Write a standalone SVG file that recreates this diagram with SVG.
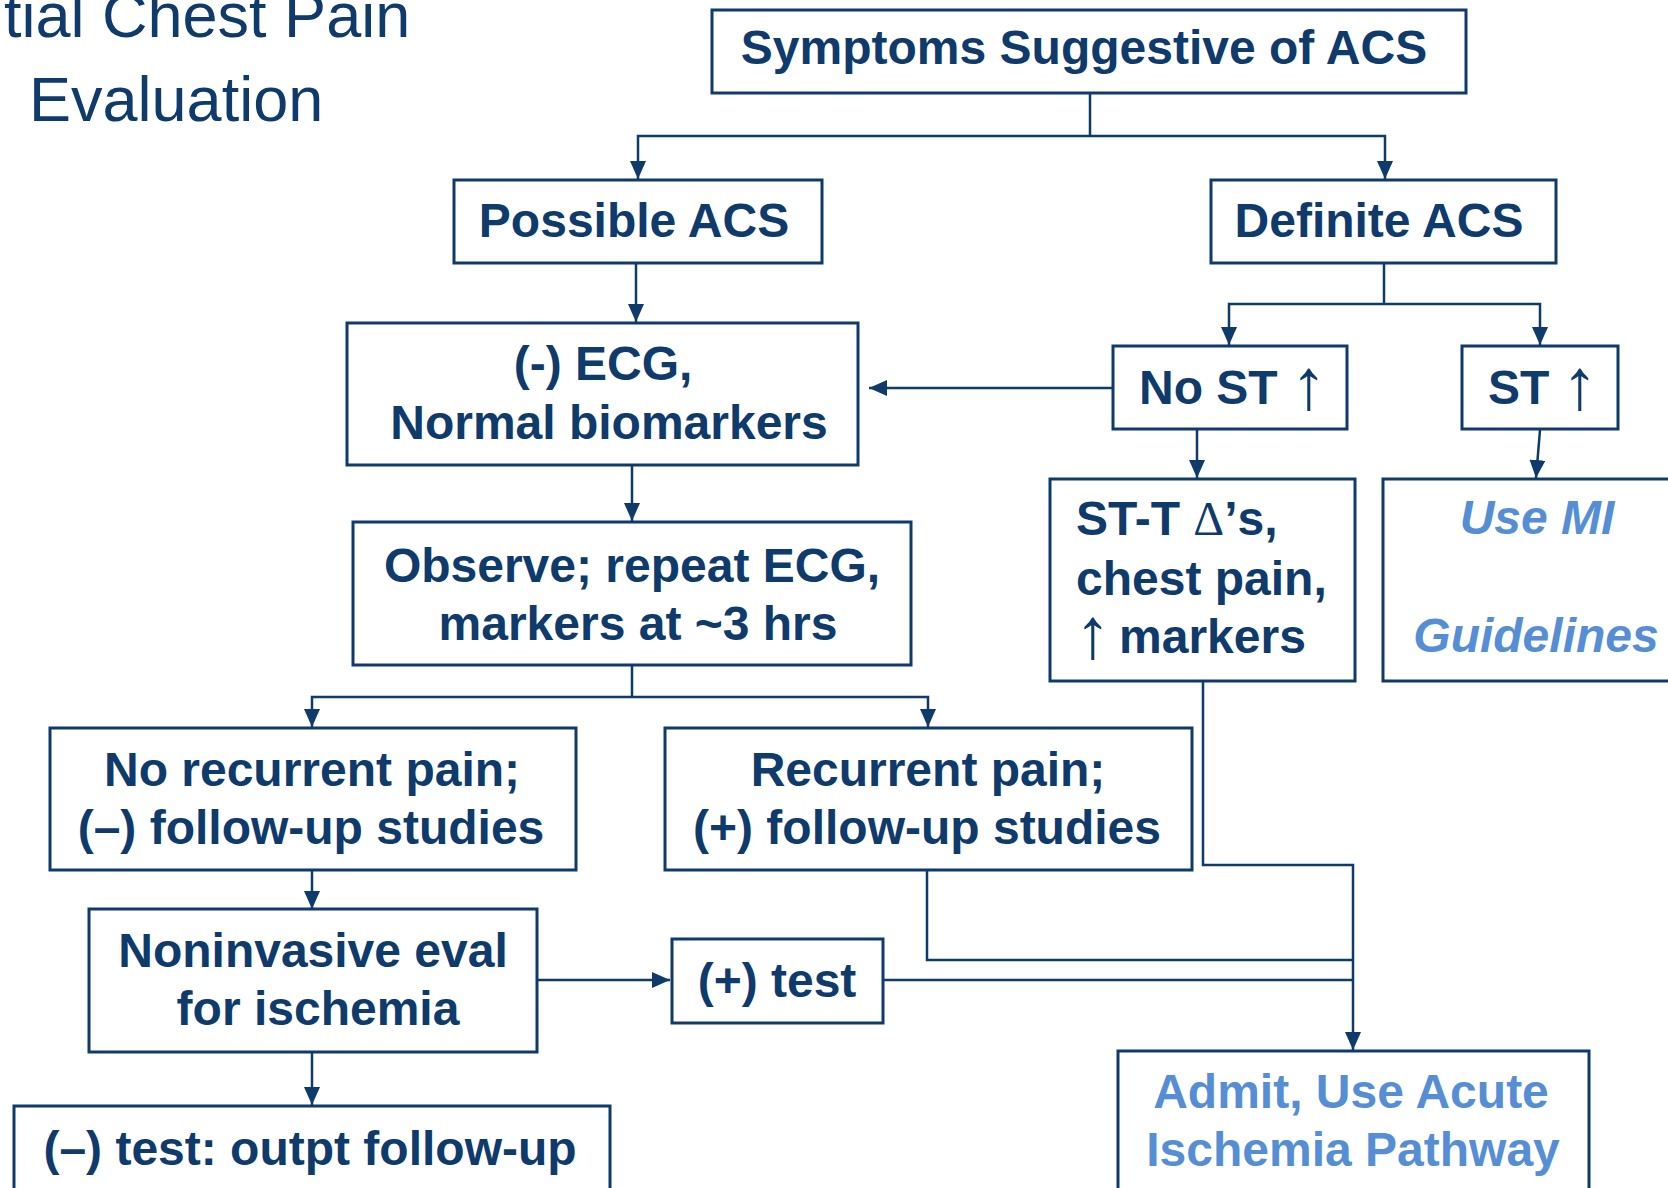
<svg xmlns="http://www.w3.org/2000/svg" width="1668" height="1188" viewBox="0 0 1668 1188">
  <style>
    .box { fill: #ffffff; stroke: #0e3a6c; stroke-width: 3; }
    .t { font-family: "Liberation Sans", Arial, sans-serif; font-weight: 700; font-size: 48px; fill: #0e3a6c; }
    .c { text-anchor: middle; }
    .blue { fill: #558ed5; }
    .it { font-style: italic; }
    .sym { font-family: "Liberation Serif", "Times New Roman", serif; font-weight: 400; }
    .up { font-family: "Liberation Serif", "Times New Roman", serif; font-weight: 400; font-size: 72px; }
    .title { font-family: "Liberation Sans", Arial, sans-serif; font-size: 63px; fill: #0e3a6c; }
    .wire { fill: none; stroke: #0e3a6c; stroke-width: 2.5; }
    .arr { marker-end: url(#head); }
  </style>
  <defs>
    <marker id="head" markerUnits="userSpaceOnUse" markerWidth="18" markerHeight="16" refX="18" refY="8" orient="auto">
      <path d="M0,0 L18,8 L0,16 z" fill="#0e3a6c"/>
    </marker>
  </defs>

  <rect width="1668" height="1188" fill="#ffffff"/>

  <!-- slide title -->
  <g id="title">
    <text class="title" x="4" y="37">tial Chest Pain</text>
    <text class="title" x="29" y="121">Evaluation</text>
  </g>

  <!-- connectors -->
  <g id="connectors">
    <path class="wire" d="M1090,93 V136"/>
    <path class="wire arr" d="M1090,136 H638 V179"/>
    <path class="wire arr" d="M1090,136 H1385 V179"/>
    <path class="wire arr" d="M636,263 V322"/>
    <path class="wire" d="M1384,263 V304"/>
    <path class="wire arr" d="M1384,304 H1229 V345"/>
    <path class="wire arr" d="M1384,304 H1540 V345"/>
    <path class="wire arr" d="M1113,388 H869"/>
    <path class="wire arr" d="M1197,430 V478"/>
    <path class="wire arr" d="M1540,430 L1536,478"/>
    <path class="wire arr" d="M632,461 V521"/>
    <path class="wire" d="M632,665 V697"/>
    <path class="wire arr" d="M632,697 H312 V727"/>
    <path class="wire arr" d="M632,697 H928 V727"/>
    <path class="wire arr" d="M312,870 V909"/>
    <path class="wire arr" d="M312,1052 V1105"/>
    <path class="wire arr" d="M537,980 H670"/>
    <path class="wire" d="M883,980 H1353"/>
    <path class="wire" d="M927,870 V960 H1353"/>
    <path class="wire arr" d="M1203,681 V865 H1353 V1050"/>
  </g>

  <g id="symptoms">
    <rect class="box" x="712" y="10" width="754" height="83"/>
    <text class="t c" x="1084" y="64">Symptoms Suggestive of ACS</text>
  </g>

  <g id="possible-acs">
    <rect class="box" x="454" y="180" width="368" height="83"/>
    <text class="t c" x="634" y="237">Possible ACS</text>
  </g>

  <g id="definite-acs">
    <rect class="box" x="1211" y="180" width="345" height="83"/>
    <text class="t c" x="1379" y="237">Definite ACS</text>
  </g>

  <g id="negative-ecg">
    <rect class="box" x="347" y="323" width="511" height="142"/>
    <text class="t c" x="603" y="380">(-) ECG,</text>
    <text class="t c" x="609" y="439">Normal biomarkers</text>
  </g>

  <g id="no-st-elevation">
    <rect class="box" x="1113" y="346" width="234" height="83"/>
    <text class="t" x="1139" y="404">No ST <tspan class="up" x="1291" dy="5">↑</tspan></text>
  </g>

  <g id="st-elevation">
    <rect class="box" x="1462" y="346" width="156" height="83"/>
    <text class="t" x="1488" y="404">ST <tspan class="up" x="1562" dy="5">↑</tspan></text>
  </g>

  <g id="observe">
    <rect class="box" x="353" y="522" width="558" height="143"/>
    <text class="t c" x="632" y="582">Observe; repeat ECG,</text>
    <text class="t c" x="638" y="640">markers at ~3 hrs</text>
  </g>

  <g id="st-t-changes">
    <rect class="box" x="1050" y="479" width="305" height="202"/>
    <text class="t" x="1076" y="535">ST-T <tspan class="sym">Δ</tspan>’s,</text>
    <text class="t" x="1076" y="595">chest pain,</text>
    <text class="t" x="1075" y="653"><tspan class="up" dy="5">↑</tspan><tspan x="1119" dy="-5">markers</tspan></text>
  </g>

  <g id="mi-guidelines">
    <rect class="box" x="1383" y="479" width="320" height="202"/>
    <text class="t c blue it" x="1537" y="534">Use MI</text>
    <text class="t c blue it" x="1536" y="652">Guidelines</text>
  </g>

  <g id="no-recurrent-pain">
    <rect class="box" x="50" y="728" width="526" height="142"/>
    <text class="t c" x="312" y="786">No recurrent pain;</text>
    <text class="t c" x="311" y="844">(–) follow-up studies</text>
  </g>

  <g id="recurrent-pain">
    <rect class="box" x="665" y="728" width="527" height="142"/>
    <text class="t c" x="928" y="786">Recurrent pain;</text>
    <text class="t c" x="927" y="844">(+) follow-up studies</text>
  </g>

  <g id="noninvasive-eval">
    <rect class="box" x="89" y="909" width="448" height="143"/>
    <text class="t c" x="313" y="967">Noninvasive eval</text>
    <text class="t c" x="318" y="1025">for ischemia</text>
  </g>

  <g id="positive-test">
    <rect class="box" x="672" y="939" width="211" height="84"/>
    <text class="t c" x="777" y="997">(+) test</text>
  </g>

  <g id="negative-test">
    <rect class="box" x="14" y="1106" width="596" height="120"/>
    <text class="t c" x="310" y="1165">(–) test: outpt follow-up</text>
  </g>

  <g id="admit">
    <rect class="box" x="1118" y="1051" width="471" height="170"/>
    <text class="t c blue" x="1351" y="1108">Admit, Use Acute</text>
    <text class="t c blue" x="1353" y="1166">Ischemia Pathway</text>
  </g>
</svg>
